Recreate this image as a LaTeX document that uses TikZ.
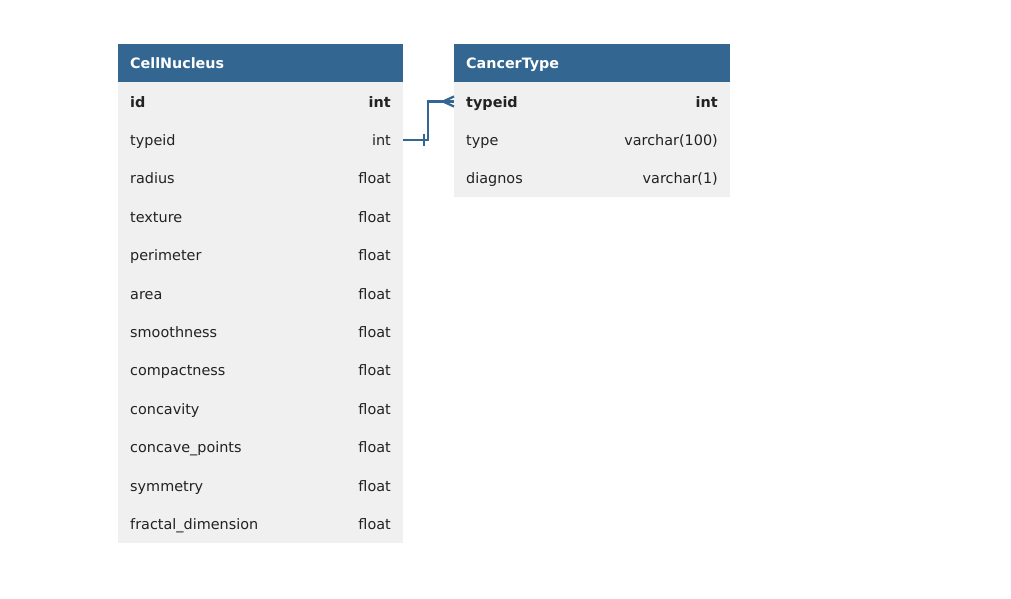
\documentclass[tikz,border=0pt]{standalone}
\usepackage{fontspec}
\setmainfont{DejaVu Sans}
\definecolor{hdr}{RGB}{51,103,145}
\definecolor{rowbg}{RGB}{240,240,240}
\definecolor{txt}{RGB}{34,34,34}
\begin{document}
\begin{tikzpicture}[x=1pt,y=-1pt,
  hdrtxt/.style={anchor=base west,inner sep=0pt,text=white,font=\fontsize{14.3}{16}\selectfont\bfseries},
  coltxt/.style={anchor=base west,inner sep=0pt,text=txt,font=\fontsize{14.4}{16}\selectfont},
  typtxt/.style={anchor=base east,inner sep=0pt,text=txt,font=\fontsize{14.4}{16}\selectfont},
  boldf/.style={font=\fontsize{14.4}{16}\selectfont\bfseries},
  link/.style={draw=hdr,line width=2.3pt}]
\useasboundingbox (0,0) rectangle (1011,598);
\fill[white] (0,0) rectangle (1011,598);
% CellNucleus
\fill[rowbg] (118,82) rectangle (403,543.4);
\fill[hdr] (118,44) rectangle (403,82);
\node[hdrtxt] (cnh) at (130,68.5) {CellNucleus};
\foreach \n/\t/\b [count=\i from 0] in {id/int/1,typeid/int/0,radius/float/0,texture/float/0,perimeter/float/0,area/float/0,smoothness/float/0,compactness/float/0,concavity/float/0,concave\_points/float/0,symmetry/float/0,fractal\_dimension/float/0}{
  \pgfmathsetmacro\yy{107+38.4*\i}
  \ifnum\b=1
    \node[coltxt,boldf] (cn\i) at (130,\yy) {\n};
    \node[typtxt,boldf] (cnt\i) at (391,\yy) {\t};
  \else
    \node[coltxt] (cn\i) at (130,\yy) {\n};
    \node[typtxt] (cnt\i) at (391,\yy) {\t};
  \fi
}
% CancerType
\fill[rowbg] (454,82) rectangle (730,197.2);
\fill[hdr] (454,44) rectangle (730,82);
\node[hdrtxt] (cth) at (466,68.5) {CancerType};
\node[coltxt,boldf] (ct0) at (466,107) {typeid};
\node[typtxt,boldf] (ctt0) at (718,107) {int};
\node[coltxt] (ct1) at (466,145.4) {type};
\node[typtxt] (ctt1) at (718,145.4) {varchar(100)};
\node[coltxt] (ct2) at (466,183.8) {diagnos};
\node[typtxt] (ctt2) at (718,183.8) {varchar(1)};
% connector
\coordinate (s) at (403,140);
\coordinate (e) at (454,101.5);
\draw[link] (s) -- (428,140) -- (428,101.5) -- (e);
\draw[link] (424,134) -- (424,146);
\draw[link] (443,101.5) -- (454,96.5);
\draw[link] (443,101.5) -- (454,106.5);
\end{tikzpicture}
\end{document}
